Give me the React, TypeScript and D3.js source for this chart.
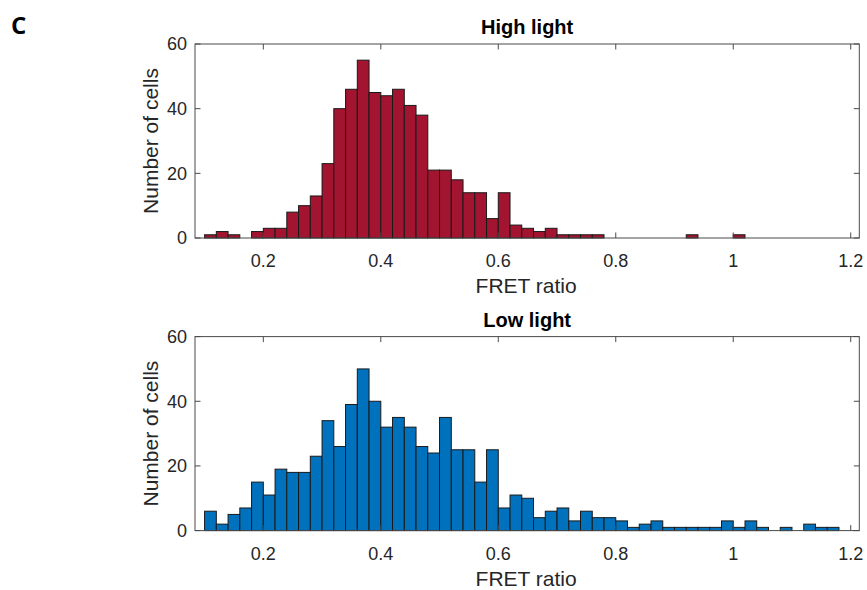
import React from "react";
import * as d3 from "d3";

const binStarts = [0.10, 0.12, 0.14, 0.16, 0.18, 0.20, 0.22, 0.24, 0.26, 0.28, 0.30, 0.32, 0.34, 0.36, 0.38, 0.40, 0.42, 0.44, 0.46, 0.48, 0.50, 0.52, 0.54, 0.56, 0.58, 0.60, 0.62, 0.64, 0.66, 0.68, 0.70, 0.72, 0.74, 0.76, 0.78, 0.80, 0.82, 0.84, 0.86, 0.88, 0.90, 0.92, 0.94, 0.96, 0.98, 1.00, 1.02, 1.04, 1.06, 1.08, 1.10, 1.12, 1.14, 1.16];
const binWidth = 0.02;

const highLightCounts = [1, 2, 1, 0, 2, 3, 3, 8, 10, 13, 23, 40, 46, 55, 45, 44, 46, 41, 38, 21, 21, 18, 14, 14, 6, 14, 4, 3, 2, 3, 1, 1, 1, 1, 0, 0, 0, 0, 0, 0, 0, 1, 0, 0, 0, 1, 0, 0, 0, 0, 0, 0, 0, 0];
const lowLightCounts = [6, 2, 5, 7, 15, 11, 19, 18, 18, 23, 34, 26, 39, 50, 40, 32, 35, 32, 26, 24, 35, 25, 25, 15, 25, 7, 11, 10, 4, 6, 7, 3, 6, 4, 4, 3, 1, 2, 3, 1, 1, 1, 1, 1, 3, 1, 3, 1, 0, 1, 0, 2, 1, 1];

const xTicks = [0.2, 0.4, 0.6, 0.8, 1.0, 1.2];
const xTickLabels = ["0.2", "0.4", "0.6", "0.8", "1", "1.2"];
const yTicks = [0, 20, 40, 60];

const xDomain: [number, number] = [0.0837, 1.2146];
const yDomain: [number, number] = [0, 60];

const FONT = "'Liberation Sans', Arial, Helvetica, sans-serif";
const TEXT = "#262626";
const AXIS = "#4a4a4a";

function Panel({ top, counts, color, title }: { top: number; counts: number[]; color: string; title: string }) {
  const left = 195;
  const right = 859.3;
  const height = 194;
  const bottom = top + height;
  const x = d3.scaleLinear().domain(xDomain).range([left, right]);
  const y = d3.scaleLinear().domain(yDomain).range([bottom, top]);
  const tickLen = 5.5;
  return (
    <g>
      {counts.map((c, i) =>
        c > 0 ? (
          <rect
            key={i}
            x={x(binStarts[i])}
            y={y(c)}
            width={x(binStarts[i] + binWidth) - x(binStarts[i])}
            height={y(0) - y(c)}
            fill={color}
            stroke="#1a1a1a"
            strokeWidth={1}
          />
        ) : null
      )}
      <rect x={left} y={top} width={right - left} height={height} fill="none" stroke={AXIS} strokeWidth={1} />
      {xTicks.map((t, i) => (
        <g key={"x" + i}>
          <line x1={x(t)} x2={x(t)} y1={bottom} y2={bottom - tickLen} stroke={AXIS} strokeWidth={1} />
          <line x1={x(t)} x2={x(t)} y1={top} y2={top + tickLen} stroke={AXIS} strokeWidth={1} />
          <text x={x(t)} y={bottom + 29} textAnchor="middle" fontSize={18} fontFamily={FONT} fill={TEXT}>
            {xTickLabels[i]}
          </text>
        </g>
      ))}
      {yTicks.map((t, i) => (
        <g key={"y" + i}>
          <line x1={left} x2={left + tickLen} y1={y(t)} y2={y(t)} stroke={AXIS} strokeWidth={1} />
          <line x1={right} x2={right - tickLen} y1={y(t)} y2={y(t)} stroke={AXIS} strokeWidth={1} />
          <text x={187} y={y(t)} dy="0.35em" textAnchor="end" fontSize={18} fontFamily={FONT} fill={TEXT}>
            {t}
          </text>
        </g>
      ))}
      <text x={(left + right) / 2} y={top - 10} textAnchor="middle" fontSize={20} fontWeight="bold" fontFamily={FONT} fill="#000">
        {title}
      </text>
      <text x={(left + right) / 2 - 1} y={bottom + 55} textAnchor="middle" fontSize={21} fontFamily={FONT} fill={TEXT}>
        FRET ratio
      </text>
      <text
        transform={`translate(157.5, ${(top + bottom) / 2}) rotate(-90)`}
        textAnchor="middle"
        fontSize={21}
        fontFamily={FONT}
        fill={TEXT}
      >
        Number of cells
      </text>
    </g>
  );
}

export default function App() {
  return (
    <svg width={867} height={590} style={{ position: "absolute", left: 0, top: 0, background: "#fff" }}>
      <rect x={0} y={0} width={867} height={590} fill="#fff" />
      <text x={11} y={33.5} fontSize={24} fontWeight="bold" fontFamily="'Open Sans', 'Noto Sans', sans-serif" fill="#000">
        C
      </text>
      <Panel top={44} counts={highLightCounts} color="#A2142F" title="High light" />
      <Panel top={336.6} counts={lowLightCounts} color="#0072BD" title="Low light" />
    </svg>
  );
}
